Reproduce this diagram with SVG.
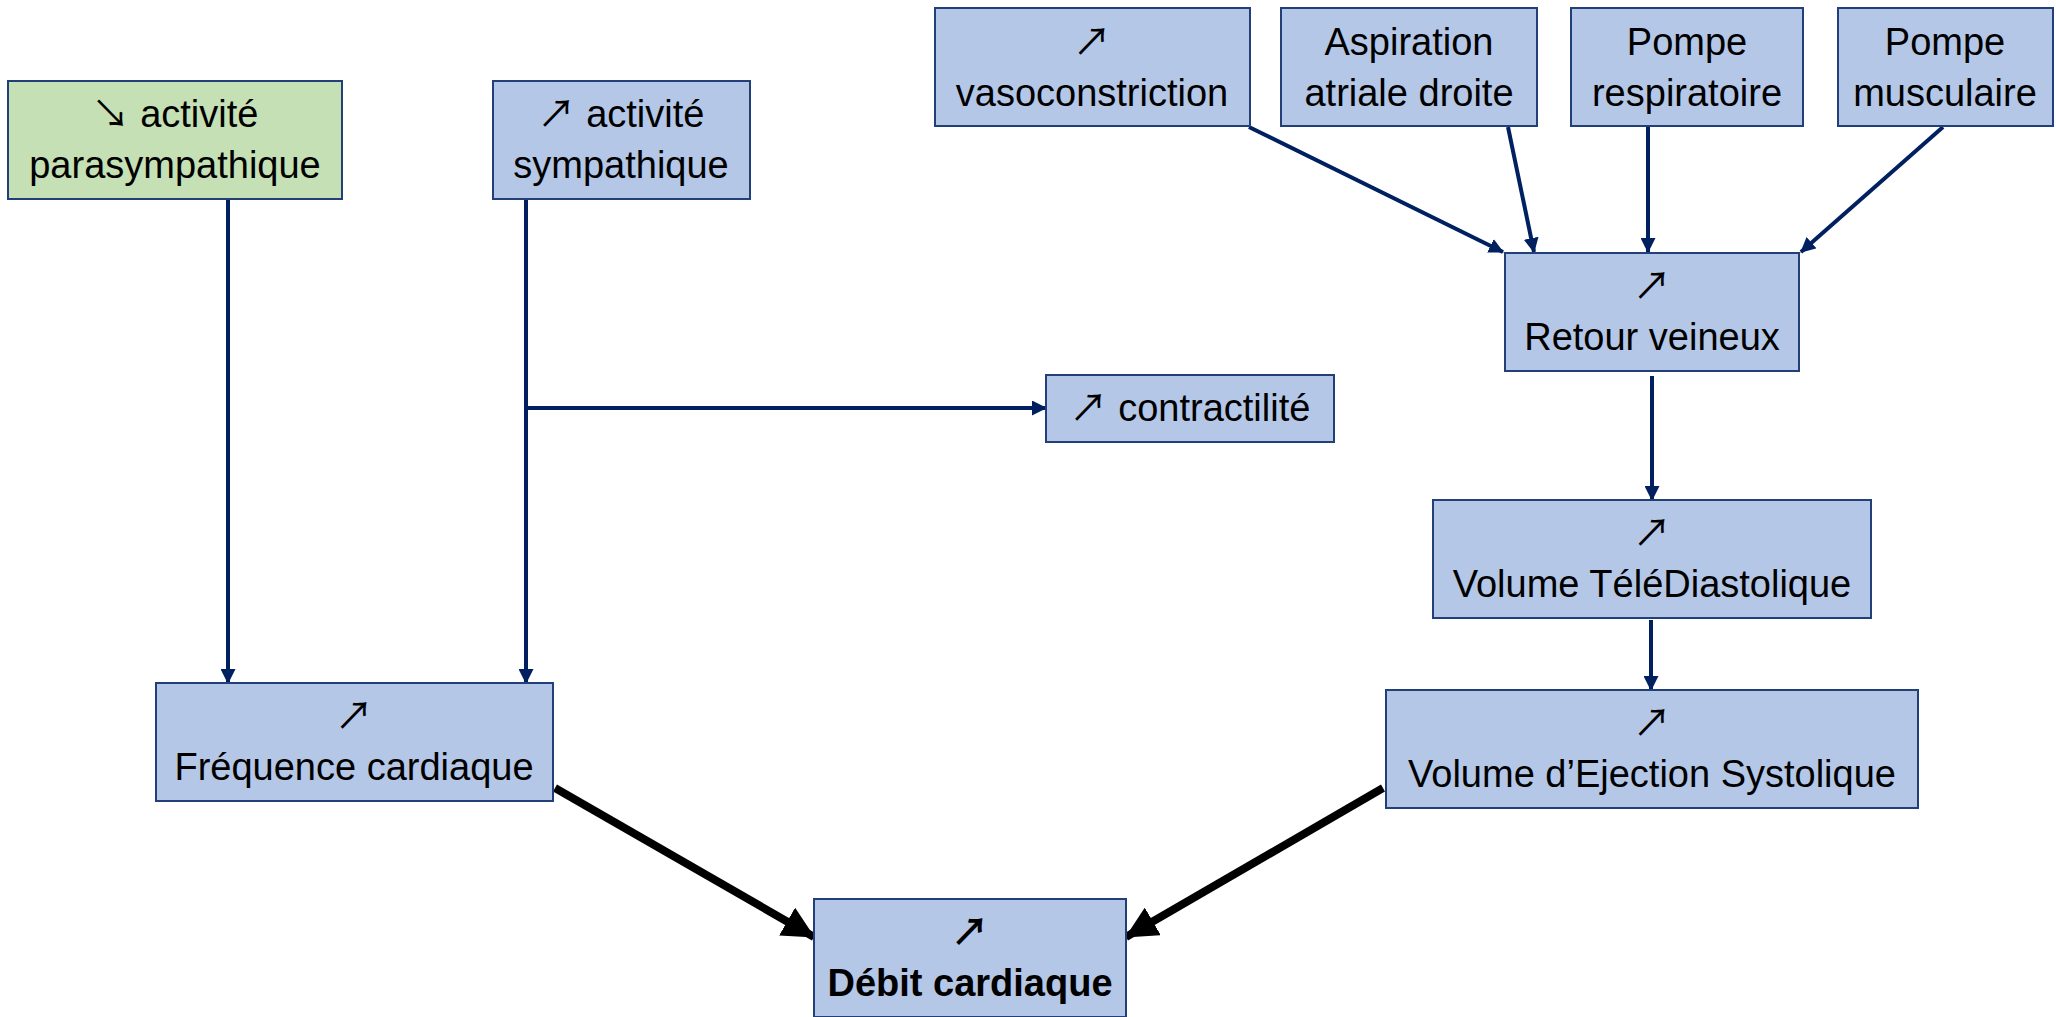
<svg xmlns="http://www.w3.org/2000/svg" width="2056" height="1017" viewBox="0 0 2056 1017">
<style>
.box{fill:#B4C7E7;stroke:#223F7A;stroke-width:2}
.green{fill:#C5E0B4;stroke:#223F7A;stroke-width:2}
text{font-family:"Liberation Sans","DejaVu Sans",sans-serif;font-size:38px;fill:#000;text-anchor:middle}
.ar{font-family:"Noto Sans CJK JP","DejaVu Sans",sans-serif;font-weight:normal}
.b{font-weight:bold}
.thin{stroke:#002060;stroke-width:4;fill:none;marker-end:url(#ah)}
.thick{stroke:#000;stroke-width:8;fill:none;marker-end:url(#ahb)}
</style>
<defs>
<marker id="ah" markerUnits="userSpaceOnUse" markerWidth="15" markerHeight="15" refX="14" refY="7.5" orient="auto"><path d="M0,0 L15,7.5 L0,15 Z" fill="#002060"/></marker>
<marker id="ahb" markerUnits="userSpaceOnUse" markerWidth="32" markerHeight="32" refX="31" refY="16" orient="auto"><path d="M0,0 L32,16 L0,32 Z" fill="#000"/></marker>
</defs>
<g id="connectors">
<line class="thin" x1="228" y1="199" x2="228" y2="683"/>
<line class="thin" x1="526" y1="199" x2="526" y2="683"/>
<line class="thin" x1="526" y1="408" x2="1046" y2="408"/>
<line class="thin" x1="1249" y1="127" x2="1503" y2="252"/>
<line class="thin" x1="1508" y1="127" x2="1534" y2="252"/>
<line class="thin" x1="1648" y1="127" x2="1648" y2="252"/>
<line class="thin" x1="1943" y1="127" x2="1801" y2="252"/>
<line class="thin" x1="1652" y1="376" x2="1652" y2="500"/>
<line class="thin" x1="1651" y1="620" x2="1651" y2="690"/>
<line class="thick" x1="555" y1="788" x2="814" y2="937"/>
<line class="thick" x1="1383" y1="788" x2="1126" y2="937"/>
</g>
<g id="parasympathique"><rect class="green" x="8" y="81" width="334" height="118"/><text x="175" y="127"><tspan class="ar">↘</tspan> activité</text><text x="175" y="178">parasympathique</text></g>
<g id="sympathique"><rect class="box" x="493" y="81" width="257" height="118"/><text x="621" y="127"><tspan class="ar">↗</tspan> activité</text><text x="621" y="178">sympathique</text></g>
<g id="vasoconstriction"><rect class="box" x="935" y="8" width="315" height="118"/><text x="1092" y="55" class="ar">↗</text><text x="1092" y="106">vasoconstriction</text></g>
<g id="aspiration"><rect class="box" x="1281" y="8" width="256" height="118"/><text x="1409" y="55">Aspiration</text><text x="1409" y="106">atriale droite</text></g>
<g id="pompe-respiratoire"><rect class="box" x="1571" y="8" width="232" height="118"/><text x="1687" y="55">Pompe</text><text x="1687" y="106">respiratoire</text></g>
<g id="pompe-musculaire"><rect class="box" x="1838" y="8" width="215" height="118"/><text x="1945" y="55">Pompe</text><text x="1945" y="106">musculaire</text></g>
<g id="retour-veineux"><rect class="box" x="1505" y="253" width="294" height="118"/><text x="1652" y="299" class="ar">↗</text><text x="1652" y="350">Retour veineux</text></g>
<g id="contractilite"><rect class="box" x="1046" y="375" width="288" height="67"/><text x="1190" y="421"><tspan class="ar">↗</tspan> contractilité</text></g>
<g id="vtd"><rect class="box" x="1433" y="500" width="438" height="118"/><text x="1652" y="546" class="ar">↗</text><text x="1652" y="597">Volume TéléDiastolique</text></g>
<g id="ves"><rect class="box" x="1386" y="690" width="532" height="118"/><text x="1652" y="736" class="ar">↗</text><text x="1652" y="787">Volume d’Ejection Systolique</text></g>
<g id="frequence-cardiaque"><rect class="box" x="156" y="683" width="397" height="118"/><text x="354" y="729" class="ar">↗</text><text x="354" y="780">Fréquence cardiaque</text></g>
<g id="debit-cardiaque"><rect class="box" x="814" y="899" width="312" height="118"/><text x="970" y="945" class="ar" style="font-weight:bold">↗</text><text x="970" y="996" class="b">Débit cardiaque</text></g>
</svg>
